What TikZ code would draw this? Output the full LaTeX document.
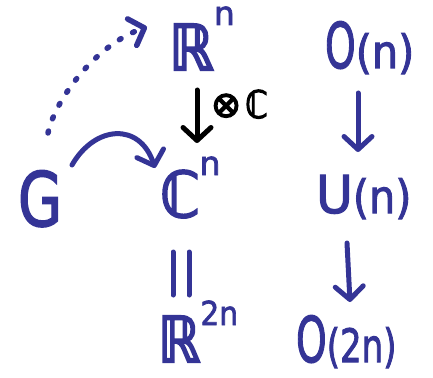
\documentclass[tikz,border=0pt]{standalone}
\usepackage{fontspec}
\usepackage{graphicx}
\setmainfont{DejaVu Sans}[FakeBold=2.2]
\newfontfamily\bbfont{DejaVu Sans}[FakeBold=3.5]
\usetikzlibrary{arrows.meta}
\definecolor{ink}{RGB}{52,52,150}
% raised exponent: #1 = lift, #2 = text
\newcommand\expo[2]{\raisebox{#1}{\fontsize{33}{33}\selectfont #2}}
% smaller bracketed argument, squeezed by #1
\newcommand\argp[2][0.9]{{\fontsize{46}{46}\selectfont\scalebox{#1}[1]{(#2)}}}
% heavy double-struck letters
\newcommand\RR{{\bbfont ℝ}}
\newcommand\CC{{\bbfont ℂ}}
\tikzset{
  lbl/.style={text=ink, inner sep=0pt, outer sep=0pt, anchor=base west,
              font=\fontsize{63}{63}\selectfont},
  arr/.style={line width=5pt, line cap=round, line join=round,
              -{Straight Barb[length=13pt,width=28pt,round]}},
  bar/.style={line width=5pt, line cap=round, draw=ink},
}
\begin{document}
\begin{tikzpicture}[x=1pt,y=-1pt]
\useasboundingbox (0,0) rectangle (433,377);

% objects
\node[lbl] (G)   at (18,226)  {\fontsize{75}{75}\selectfont\scalebox{0.76}[1]{G}};
\node[lbl] (Rn)  at (169,70)  {\scalebox{0.9}[1]{\RR}\expo{45pt}{n}};
\node[lbl] (Cn)  at (160,217) {\scalebox{0.9}[1]{\CC}\expo{42pt}{n}};
\node[lbl] (R2n) at (158,362) {\scalebox{0.85}[1]{\RR}\expo{37pt}{\scalebox{0.9}[1]{2n}}};
\node[lbl] (On)  at (325,68)  {\scalebox{0.62}[1]{O}\argp{n}};
\node[lbl] (Un)  at (316,213) {\scalebox{0.8}[0.83]{U}\argp{n}};
\node[lbl] (O2n) at (296,362) {\scalebox{0.62}[1]{O}\argp[0.74]{2n}};
\node[lbl, text=black, font=\fontsize{38}{38}\selectfont] (tens) at (211,118)
  {\raisebox{1pt}{\fontsize{36}{36}\selectfont\bbfont ⊗}\hspace{4pt}\scalebox{0.85}[1]{\CC}};

% complexification
\draw[arr, black] ([xshift=28pt,yshift=-20pt]Rn.base west) -- ([xshift=37pt,yshift=74pt]Cn.base west);
% inclusions of groups
\draw[arr, ink] ([xshift=33pt,yshift=-25pt]On.base west) -- ([xshift=42pt,yshift=61pt]Un.base west);
\draw[arr, ink] ([xshift=31pt,yshift=-30pt]Un.base west) -- ([xshift=54pt,yshift=60pt]O2n.base west);
% identification C^n = R^2n
\draw[bar] ([xshift=13pt,yshift=-35pt]Cn.base west) -- ([xshift=15pt,yshift=67pt]R2n.base west);
\draw[bar] ([xshift=29pt,yshift=-35pt]Cn.base west) -- ([xshift=31pt,yshift=67pt]R2n.base west);
% actions of G
\draw[arr, ink] ([xshift=54pt,yshift=61pt]G.base west) .. controls (95,125) and (140,122) .. ([xshift=-5pt,yshift=49pt]Cn.base west);
\draw[arr, ink, line width=5.5pt, dash pattern=on 2pt off 13pt]
  ([xshift=30pt,yshift=93pt]G.base west) .. controls (55,100) and (95,45) .. ([xshift=-22pt,yshift=43pt]Rn.base west);
\end{tikzpicture}
\end{document}
